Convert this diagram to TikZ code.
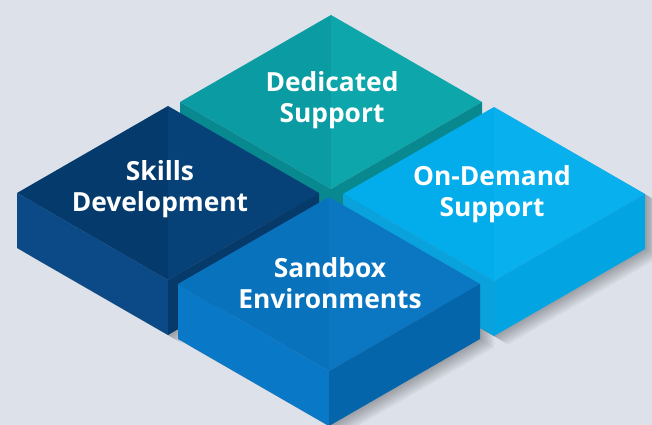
\documentclass[tikz,border=0pt]{standalone}
\usepackage{fontspec}
\setmainfont{Open Sans}
\definecolor{bgpale}{RGB}{221,225,234}
\definecolor{tealL}{RGB}{10,156,162}
\definecolor{tealR}{RGB}{13,166,171}
\definecolor{tealS}{RGB}{7,137,143}
\definecolor{navyL}{RGB}{5,59,108}
\definecolor{navyR}{RGB}{6,66,120}
\definecolor{navyS}{RGB}{11,74,134}
\definecolor{navyF}{RGB}{5,58,106}
\definecolor{midL}{RGB}{9,114,189}
\definecolor{midR}{RGB}{11,119,194}
\definecolor{midS}{RGB}{9,120,198}
\definecolor{midF}{RGB}{5,101,170}
\definecolor{skyL}{RGB}{3,172,234}
\definecolor{skyR}{RGB}{8,177,237}
\definecolor{skyS}{RGB}{10,162,220}
\definecolor{skyF}{RGB}{2,164,226}

% outline of a slab around its centre
\newcommand{\slabpath}{(0,-87) -- (151,0) -- (151,55) -- (0,142) -- (-151,55) -- (-151,0) -- cycle}

% one slab: centre x, centre y, top left half, top right half, left side, right side
\newcommand{\slab}[6]{%
  \begin{scope}[shift={(#1,#2)}]
    \fill[#3] (0,-87) -- (0,87) -- (-151,0) -- cycle;
    \fill[#4] (0,-87) -- (151,0) -- (0,87) -- cycle;
    \fill[#5] (-151,0) -- (0,87) -- (0,142) -- (-151,55) -- cycle;
    \fill[#6] (0,87) -- (151,0) -- (151,55) -- (0,142) -- cycle;
  \end{scope}}

\begin{document}
\begin{tikzpicture}[x=0.02cm, y=-0.02cm,
  tilelabel/.style={text=white, align=center, font=\bfseries\fontsize{15}{17.6}\selectfont}
]
\useasboundingbox (0,0) rectangle (652,425);
\clip (0,0) rectangle (652,425);
\fill[bgpale] (0,0) rectangle (652,425);

% shadows first, then the slabs back to front
\foreach \cx/\cy in {168/193, 494/194, 329/284}{
  \foreach \d in {2,4,...,14}{
    \begin{scope}[shift={(\cx+\d,\cy+0.6*\d)}]
      \fill[black, opacity=0.045] \slabpath;
    \end{scope}
  }
}
\slab{331}{102}{tealL}{tealR}{tealS}{tealS}
\slab{168}{193}{navyL}{navyR}{navyS}{navyF}
\slab{494}{194}{skyL}{skyR}{skyS}{skyF}
\slab{329}{284}{midL}{midR}{midS}{midF}

\node[tilelabel] (dedicated) at (332,100) {Dedicated\\Support};
\node[tilelabel] (skills) at (160,189) {Skills\\Development};
\node[tilelabel] (ondemand) at (492,194) {On-Demand\\Support};
\node[tilelabel] (sandbox) at (330,283) {Sandbox\\Environments};
\end{tikzpicture}
\end{document}
